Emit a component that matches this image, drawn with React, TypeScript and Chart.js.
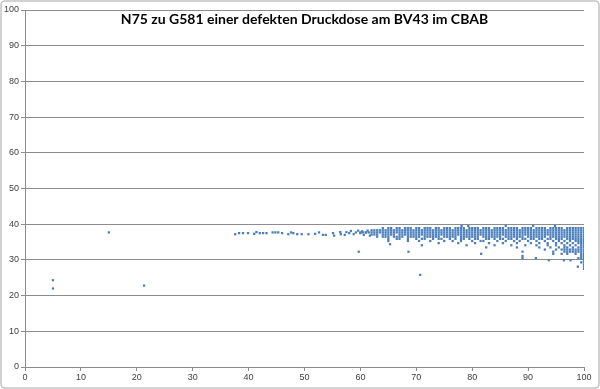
import React, { useEffect, useRef } from "react";
import { Chart, registerables } from "chart.js";

Chart.register(...registerables);

const TITLE = "N75 zu G581 einer defekten Druckdose am BV43 im CBAB";
const POINT_COLOR = "#4A7EBB";
const GRID_COLOR = "#8C8C8C";

// Scattered single readings (x = N75, y = G581)
const looseX = [5, 5, 15, 21.3, 37.6, 38.3, 39.0, 39.9, 41.0, 41.4, 42.0, 42.6, 43.2, 44.3, 44.8, 45.3, 46.0, 47.1, 47.6, 48.0, 48.7, 49.5, 50.7, 51.9, 52.6, 53.3, 53.8, 55.1, 55.3, 56.4, 56.5, 57.2, 57.5, 58.0, 58.3, 58.8, 59.2, 59.6, 60.0, 60.3, 60.6, 61.0, 61.3, 61.7, 70.7, 65.3];
const looseY = [24.3, 22.0, 37.7, 22.8, 37.2, 37.5, 37.5, 37.5, 37.3, 37.8, 37.5, 37.5, 37.5, 37.7, 37.7, 37.7, 37.5, 37.2, 37.7, 37.5, 37.2, 37.2, 37.2, 37.3, 37.7, 37.0, 37.0, 37.5, 36.8, 37.8, 37.2, 37.0, 37.8, 37.5, 38.1, 37.2, 37.7, 38.2, 37.5, 38.0, 37.0, 37.7, 38.2, 36.8, 25.8, 34.4];

// Dense band, one list of N75 values per G581 level
const row395 = [78.1, 79.3, 86, 90.9, 94.8];
const row389 = [64, 65, 65.5, 66.5, 67, 68, 68.5, 69, 70, 70.5, 71.5, 72, 72.5, 73.5, 74, 75, 75.5, 76, 77, 77.5, 78, 78.5, 79.5, 80, 80.5, 81, 82, 82.5, 83, 84, 84.5, 85, 85.5, 86.5, 87, 87.5, 88, 89, 89.5, 90, 90.5, 91.5, 92, 92.5, 93, 94, 94.5, 95, 95.5, 96, 97, 97.5, 98, 98.5, 99, 99.5, 100];
const row383 = [62, 62.5, 63, 63.5, 64, 64.5, 65, 65.5, 66, 66.5, 67, 67.5, 68, 68.5, 69, 69.5, 70, 70.5, 71, 71.5, 72, 72.5, 73, 73.5, 74, 74.5, 75, 75.5, 76, 76.5, 77, 77.5, 78, 78.5, 79, 79.5, 80, 80.5, 81, 81.5, 82, 82.5, 83, 83.5, 84, 84.5, 85, 85.5, 86, 86.5, 87, 87.5, 88, 88.5, 89, 89.5, 90, 90.5, 91, 91.5, 92, 92.5, 93, 93.5, 94, 94.5, 95, 95.5, 96, 96.5, 97, 97.5, 98, 98.5, 99, 99.5, 100];
const row377 = [60, 60.5, 61, 61.5, 62, 62.5, 63, 63.5, 64, 64.5, 65, 65.5, 66, 66.5, 67, 67.5, 68, 68.5, 69, 69.5, 70, 70.5, 71, 71.5, 72, 72.5, 73, 73.5, 74, 74.5, 75, 75.5, 76, 76.5, 77, 77.5, 78, 78.5, 79, 79.5, 80, 80.5, 81, 81.5, 82, 82.5, 83, 83.5, 84, 84.5, 85, 85.5, 86, 86.5, 87, 87.5, 88, 88.5, 89, 89.5, 90, 90.5, 91, 91.5, 92, 92.5, 93, 93.5, 94, 94.5, 95, 95.5, 96, 96.5, 97, 97.5, 98, 98.5, 99, 99.5, 100];
const row371 = [62, 62.5, 63, 64, 64.5, 65, 65.5, 66, 67, 67.5, 68, 68.5, 69, 69.5, 70, 70.5, 71, 71.5, 72, 72.5, 73, 73.5, 74, 74.5, 75, 75.5, 76, 76.5, 77, 77.5, 78, 78.5, 79, 79.5, 80, 80.5, 81, 81.5, 82, 82.5, 83, 83.5, 84, 84.5, 85, 85.5, 86, 86.5, 87, 87.5, 88, 88.5, 89, 89.5, 90, 90.5, 91, 91.5, 92, 92.5, 93, 93.5, 94, 94.5, 95, 95.5, 96, 96.5, 97, 97.5, 98, 98.5, 99, 99.5, 100];
const row365 = [63, 64, 64.5, 65, 66, 66.5, 67, 67.5, 68.5, 69, 69.5, 70, 70.5, 71.5, 72, 72.5, 73, 73.5, 74, 75, 75.5, 76, 76.5, 77, 78, 78.5, 79, 79.5, 80, 80.5, 81, 82, 82.5, 83, 83.5, 84, 84.5, 85, 86, 86.5, 87, 87.5, 88, 88.5, 89, 90, 90.5, 91, 91.5, 92, 92.5, 93, 94, 94.5, 95, 95.5, 96, 96.5, 97, 97.5, 98, 98.5, 99, 99.5, 100];
const row359 = [65, 66.5, 67, 68.5, 70, 71, 71.5, 73, 74, 74.5, 76, 77, 78, 78.5, 79.5, 80.5, 81, 82.5, 83, 84, 85, 85.5, 86.5, 87, 88, 89, 89.5, 90.5, 91, 92, 92.5, 93.5, 94, 95, 95.5, 96, 97, 97.5, 98, 98.5, 99, 99.5, 100];
const row353 = [65, 68.5, 70.5, 72.5, 75, 76.5, 78, 80, 81.5, 82, 84.5, 86, 87.5, 88.5, 90, 91.5, 93, 94.5, 95.5, 96.5, 97.5, 98.5, 99, 99.5, 100];
const row347 = [74, 77.5, 80.5, 83, 85.5, 88, 90.5, 92, 93.5, 95, 96, 97, 98, 99, 99.5, 100];
const row341 = [71, 79, 84, 87, 89.5, 91.5, 93.5, 95, 96.5, 97.5, 98.5, 99.5, 100];
const row335 = [82.5, 88, 92, 94, 95.5, 96.5, 97, 98, 99, 99.5, 100];
const row329 = [93, 95, 96, 96.5, 97, 97.5, 98, 98.5, 99, 99.5, 100];
const row323 = [59.7, 68.6, 89, 94.5, 96.5, 97, 97.5, 98, 98.5, 99, 99.5, 100];
const row317 = [81.6, 94.5, 96, 97, 98.5, 99.5, 100];
const row311 = [89, 99.5, 100];
const row305 = [89, 91.4, 99, 99.5, 100];
const row299 = [93.7, 96.4, 97.6, 100];
const row293 = [99.5, 100];
const row287 = [100];
const row281 = [98.9, 100];
const row275 = [100];

const bandLevels = [39.5, 38.9, 38.3, 37.7, 37.1, 36.5, 35.9, 35.3, 34.7, 34.1, 33.5, 32.9, 32.3, 31.7, 31.1, 30.5, 29.9, 29.3, 28.7, 28.1, 27.5];
const bandRows = [row395, row389, row383, row377, row371, row365, row359, row353, row347, row341, row335, row329, row323, row317, row311, row305, row299, row293, row287, row281, row275];

export default function App() {
  const canvasRef = useRef<HTMLCanvasElement | null>(null);

  useEffect(() => {
    const canvas = canvasRef.current;
    if (!canvas) return;

    const points: { x: number; y: number }[] = [];
    looseX.forEach((x, i) => points.push({ x, y: looseY[i] }));
    bandRows.forEach((xs, r) => xs.forEach((x) => points.push({ x, y: bandLevels[r] })));

    const decor = {
      id: "decor",
      afterDraw(chart: any) {
        const { ctx, chartArea } = chart;
        ctx.save();
        ctx.strokeStyle = "#C4C4C4";
        ctx.lineWidth = 1.5;
        ctx.beginPath();
        const r = 4;
        const x0 = 1, y0 = 1, x1 = 599, y1 = 388;
        ctx.moveTo(x0 + r, y0);
        ctx.lineTo(x1 - r, y0);
        ctx.quadraticCurveTo(x1, y0, x1, y0 + r);
        ctx.lineTo(x1, y1 - r);
        ctx.quadraticCurveTo(x1, y1, x1 - r, y1);
        ctx.lineTo(x0 + r, y1);
        ctx.quadraticCurveTo(x0, y1, x0, y1 - r);
        ctx.lineTo(x0, y0 + r);
        ctx.quadraticCurveTo(x0, y0, x0 + r, y0);
        ctx.stroke();
        ctx.fillStyle = "#000000";
        ctx.font = "bold 14px Lato";
        ctx.textAlign = "center";
        ctx.textBaseline = "middle";
        ctx.fillText(TITLE, (chartArea.left + chartArea.right) / 2, chartArea.top + 9);
        ctx.restore();
      },
    };

    const chart = new Chart(canvas, {
      type: "scatter",
      data: {
        datasets: [
          {
            data: points,
            backgroundColor: POINT_COLOR,
            borderColor: POINT_COLOR,
            borderWidth: 0,
            pointStyle: "rect",
            pointRadius: 1.6,
          },
        ],
      },
      options: {
        responsive: false,
        animation: false,
        layout: { padding: { top: 10, right: 16, bottom: 0, left: 0 } },
        plugins: {
          legend: { display: false },
          tooltip: { enabled: false },
          title: { display: false },
        },
        scales: {
          x: {
            type: "linear",
            min: 0,
            max: 100,
            ticks: {
              stepSize: 10,
              color: "#404040",
              font: { family: "Liberation Sans", size: 9 },
              padding: 1,
              maxRotation: 0,
            },
            grid: { drawOnChartArea: false, drawTicks: true, tickLength: 4, color: GRID_COLOR },
            border: { display: true, color: GRID_COLOR },
            afterFit(scale: any) {
              scale.height = 22;
            },
          },
          y: {
            type: "linear",
            min: 0,
            max: 100,
            ticks: {
              stepSize: 10,
              color: "#404040",
              font: { family: "Liberation Sans", size: 9 },
              padding: 2,
            },
            grid: { drawOnChartArea: true, drawTicks: true, tickLength: 4, color: GRID_COLOR },
            border: { display: true, color: GRID_COLOR },
            afterFit(scale: any) {
              scale.width = 25;
            },
          },
        },
      },
      plugins: [decor],
    });

    return () => chart.destroy();
  }, []);

  return (
    <div style={{ position: "fixed", left: 0, top: 0, width: 600, height: 389, background: "#ffffff" }}>
      <canvas ref={canvasRef} width={600} height={389} style={{ display: "block" }} />
    </div>
  );
}
